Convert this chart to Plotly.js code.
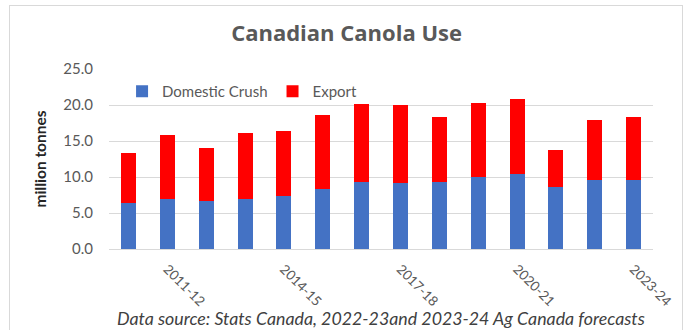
<!DOCTYPE html>
<html>
<head>
<meta charset="utf-8">
<script src="https://cdn.plot.ly/plotly-3.0.1.min.js"></script>
<style>
html,body{margin:0;padding:0;background:#fff;}
#frame{position:absolute;left:9px;top:5px;width:674px;height:340px;border:1px solid #d9d9d9;box-sizing:border-box;}
#chart{position:absolute;left:0;top:0;width:689px;height:330px;}
</style>
</head>
<body>
<div id="frame"></div>
<div id="chart"></div>
<script>
const seasons = ["2010-11","2011-12","2012-13","2013-14","2014-15","2015-16","2016-17","2017-18","2018-19","2019-20","2020-21","2021-22","2022-23","2023-24"];
const domesticCrush = [6.4, 7.0, 6.7, 7.0, 7.3, 8.3, 9.25, 9.2, 9.3, 10.05, 10.4, 8.6, 9.55, 9.55];
const exportVol = [7.0, 8.8, 7.3, 9.05, 9.15, 10.3, 10.95, 10.75, 9.1, 10.25, 10.5, 5.2, 8.3, 8.8];
const xTickLabels = ["2011-12","2014-15","2017-18","2020-21","2023-24"];
const yTicks = [0, 5, 10, 15, 20, 25];

const FONT = "Lato, 'Open Sans', sans-serif";
const data = [
  {type:"bar", name:"Domestic Crush", x:seasons, y:domesticCrush, marker:{color:"#4472c4"}, hoverinfo:"none"},
  {type:"bar", name:"Export", x:seasons, y:exportVol, marker:{color:"#ff0000"}, hoverinfo:"none"}
];
const layout = {
  width:689, height:330,
  margin:{l:109, r:36, t:69, b:81},
  paper_bgcolor:"rgba(0,0,0,0)", plot_bgcolor:"rgba(0,0,0,0)",
  barmode:"stack", bargap:0.614,
  font:{family:FONT, color:"#595959", size:13},
  title:{text:"<b>Canadian Canola Use</b>", x:0.503, xanchor:"center", y:0.9, yanchor:"middle", font:{family:"'Open Sans', sans-serif", size:22, color:"#595959"}},
  xaxis:{type:"category", tickmode:"array", tickvals:xTickLabels, ticktext:xTickLabels, tickangle:45,
         ticks:"", showgrid:false, showline:true, linecolor:"#d9d9d9", linewidth:1, zeroline:false,
         ticklabelstandoff:6, tickfont:{family:FONT, size:13.5, color:"#595959"}},
  yaxis:{range:[0,25], tickmode:"array", tickvals:yTicks, tickformat:".1f", showgrid:true, gridcolor:"#d9d9d9", gridwidth:1,
         zeroline:false, ticks:"", ticklabelstandoff:15, tickfont:{family:FONT, size:15, color:"#595959"},
         title:{text:"<b>million tonnes</b>", standoff:12, font:{family:FONT, size:15.5, color:"#262626"}}},
  legend:{orientation:"h", x:0.024, xanchor:"left", y:0.875, yanchor:"middle", traceorder:"normal",
          font:{family:FONT, size:15, color:"#595959"}, itemwidth:30, bgcolor:"rgba(0,0,0,0)"},
  annotations:[{text:"<i>Data source: Stats Canada, 2022-23and 2023-24 Ag Canada forecasts</i>", xref:"paper", yref:"paper",
    x:0.5, xanchor:"center", y:-0.385, yanchor:"middle", showarrow:false, font:{family:FONT, size:17.8, color:"#404040"}}]
};
Plotly.newPlot("chart", data, layout, {displayModeBar:false, staticPlot:true});
</script>
</body>
</html>
